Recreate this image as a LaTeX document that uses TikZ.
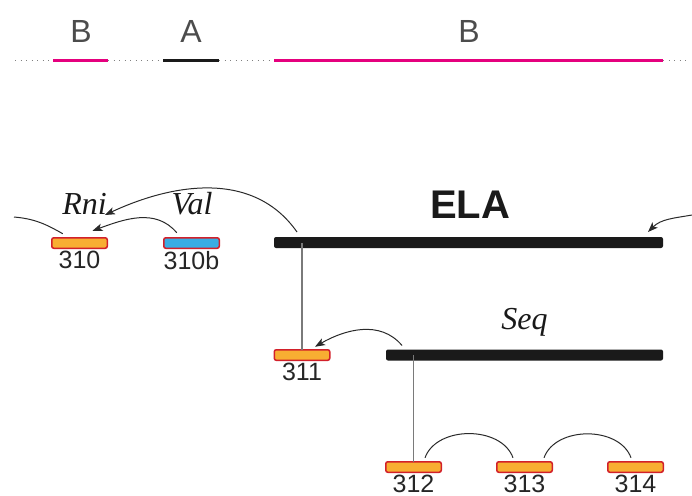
\documentclass[tikz,border=0pt]{standalone}
\usepackage{fontspec}
\setmainfont{Liberation Sans}
\newfontfamily\tnr{Liberation Serif}
\usetikzlibrary{arrows.meta}
\definecolor{pinkB}{HTML}{E5007E}
\definecolor{boxred}{HTML}{D2202A}
\definecolor{boxorange}{HTML}{F8AE32}
\definecolor{boxblue}{HTML}{3AADE3}
\definecolor{barblack}{HTML}{1A1A1A}
\definecolor{linegray}{HTML}{7A7A7A}
\definecolor{arrowgray}{HTML}{2A2A2A}
\tikzset{
  exonbox/.style={draw=boxred, line width=1.5pt, rounded corners=2pt,
    minimum width=55.5pt, minimum height=10.5pt, inner sep=0pt, outer sep=0pt},
  obox/.style={exonbox, fill=boxorange},
  bbox/.style={exonbox, fill=boxblue},
  genebar/.style={fill=barblack, rounded corners=2pt, inner sep=0pt, outer sep=0pt,
    minimum height=11pt},
  numlabel/.style={font=\fontsize{25}{30}\selectfont, text=black!85, inner sep=0pt,
    anchor=north, yshift=-3pt},
  itlabel/.style={font=\tnr\itshape\fontsize{32}{36}\selectfont, text=black!90,
    inner sep=0pt, anchor=base},
  toplabel/.style={font=\fontsize{32}{38}\selectfont, text=black!70, inner sep=0pt,
    anchor=base},
  vline/.style={draw=linegray, line width=1.2pt},
  curvearrow/.style={draw=arrowgray, line width=1pt,
    -{Stealth[length=10pt, width=7.5pt, inset=2.5pt]}},
  curveline/.style={draw=arrowgray, line width=1pt},
  dotline/.style={draw=black!50, line width=0.9pt, dash pattern=on 0.9pt off 4.6pt},
  pinkseg/.style={draw=pinkB, line width=3pt},
  blackseg/.style={draw=barblack, line width=3pt},
}
\begin{document}
\begin{tikzpicture}[x=1pt, y=1pt]
\useasboundingbox (0,0) rectangle (692,-495);

% top scheme
\coordinate (t0) at (15,-60);
\coordinate (t1) at (53,-60);
\coordinate (t2) at (108,-60);
\coordinate (t3) at (163,-60);
\coordinate (t4) at (219,-60);
\coordinate (t5) at (274,-60);
\coordinate (t6) at (663,-60);
\coordinate (t7) at (690,-60);
\draw[dotline] (t0) -- (t1);
\draw[dotline] (t2) -- (t3);
\draw[dotline] (t4) -- (t5);
\draw[dotline] (t6) -- (t7);
\draw[pinkseg] (t1) -- (t2);
\draw[blackseg] (t3) -- (t4);
\draw[pinkseg] (t5) -- (t6);
\node[toplabel] (lb1) at (81,-42) {B};
\node[toplabel] (la) at (191,-42) {A};
\node[toplabel] (lb2) at (469,-42) {B};

% bars
\node[genebar, minimum width=389pt] (ela) at (468.5,-242.5) {};
\node[genebar, minimum width=277pt] (seq) at (524.5,-355) {};
\node[font=\bfseries\fontsize{40}{46}\selectfont, text=barblack, inner sep=0pt, anchor=base] (elal) at (470,-218) {ELA};
\node[itlabel] (seql) at (524.5,-329) {Seq};
\node[itlabel] (rni) at (84.5,-214) {Rni};
\node[itlabel] (val) at (192,-214) {Val};

% boxes
\node[obox] (b310) at (79.5,-243) {};
\node[bbox] (b310b) at (191.5,-243) {};
\node[obox] (b311) at (302,-355) {};
\node[obox] (b312) at (413.5,-467) {};
\node[obox] (b313) at (524.5,-467) {};
\node[obox] (b314) at (635.5,-467) {};
\node[numlabel] (n310) at (b310.south) {310};
\node[numlabel] (n310b) at (b310b.south) {310b};
\node[numlabel] (n311) at (b311.south) {311};
\node[numlabel] (n312) at (b312.south) {312};
\node[numlabel] (n313) at (b313.south) {313};
\node[numlabel] (n314) at (b314.south) {314};

% vertical links
\draw[vline] (b311.north) -- (b311.north |- ela.center);
\draw[vline] (b312.north) -- (b312.north |- seq.center);

% arrows
\draw[curvearrow] ([shift={(23,5)}]ela.north west) to[out=125, in=25] ([shift={(-2,-1)}]rni.base east);
\draw[curvearrow] ([shift={(13,5)}]b310b.north west) to[out=130, in=20] ([shift={(13,7)}]b310.north);
\coordinate (lin) at (14,-217);
\draw[curveline] (lin) to[out=-5, in=150] ([shift={(11,4)}]b310.north west);
\coordinate (rin) at (692,-215);
\draw[curvearrow] (rin) to[out=190, in=45] ([shift={(-15,5)}]ela.north east);
\draw[curvearrow] ([shift={(16,4)}]seq.north west) to[out=130, in=30] ([shift={(13,3)}]b311.north);
\draw[curveline] ([shift={(11.5,4)}]b312.north) to[out=70, in=110] ([shift={(-11.5,4)}]b313.north);
\draw[curveline] ([shift={(19.5,4)}]b313.north) to[out=70, in=110] ([shift={(-4.5,4)}]b314.north);
\end{tikzpicture}
\end{document}
